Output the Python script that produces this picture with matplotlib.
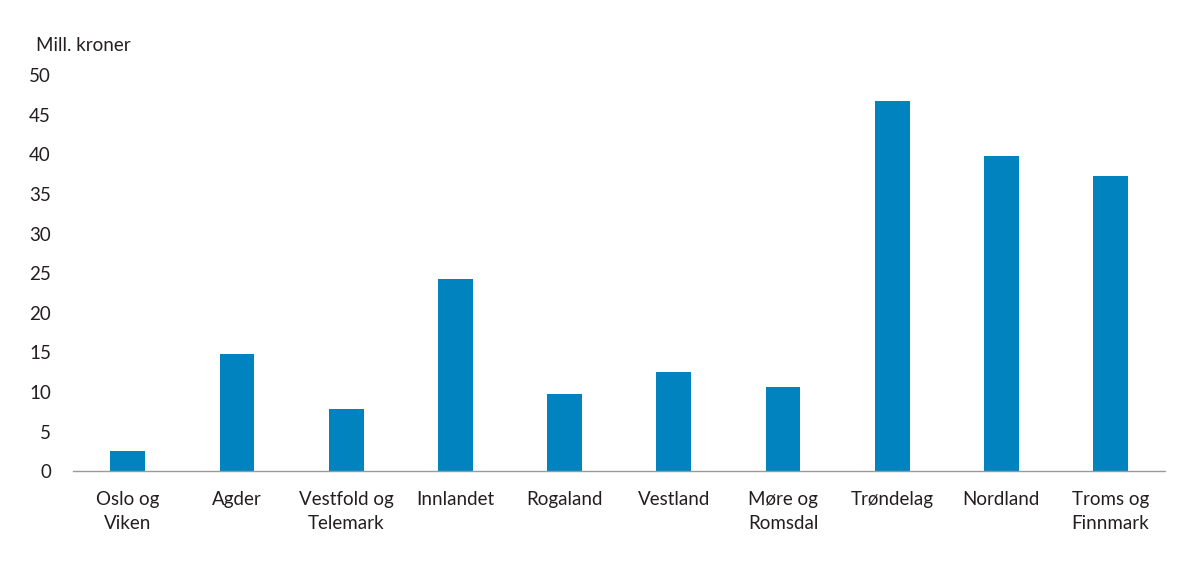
import numpy as np
import matplotlib
matplotlib.use('Agg')
import matplotlib.pyplot as plt

plt.rcParams['font.family'] = ['Lato', 'DejaVu Sans']

# data
regioner = ["Oslo og\nViken", "Agder", "Vestfold og\nTelemark", "Innlandet", "Rogaland",
            "Vestland", "Møre og\nRomsdal", "Trøndelag", "Nordland", "Troms og\nFinnmark"]
verdier = [2.5, 14.8, 7.8, 24.2, 9.8, 12.5, 10.6, 46.7, 39.8, 37.2]
yticks = [0, 5, 10, 15, 20, 25, 30, 35, 40, 45, 50]

bar_color = '#0083BF'
text_color = '#231F20'

fig = plt.figure(figsize=(12, 5.69), dpi=100)
ax = fig.add_axes([0.061, 0.172, 0.91, 0.696])

x = np.arange(len(regioner))
ax.bar(x, verdier, width=0.32, color=bar_color, zorder=2)

ax.set_xlim(-0.5, len(regioner) - 0.5)
ax.set_ylim(0, 50)
ax.set_yticks(yticks)
ax.set_xticks(x)
ax.set_xticklabels(regioner, fontsize=13.5, color=text_color, linespacing=1.55)
ax.tick_params(axis='y', labelsize=13.5, labelcolor=text_color, length=0, pad=16)
ax.tick_params(axis='x', length=0, pad=14)

for s in ['top', 'right', 'left']:
    ax.spines[s].set_visible(False)
ax.spines['bottom'].set_color('#9A9A9A')
ax.spines['bottom'].set_linewidth(1.0)

fig.text(0.03, 0.905, "Mill. kroner", fontsize=13.5, color=text_color, va='bottom')

fig.savefig('out.png', dpi=100)
